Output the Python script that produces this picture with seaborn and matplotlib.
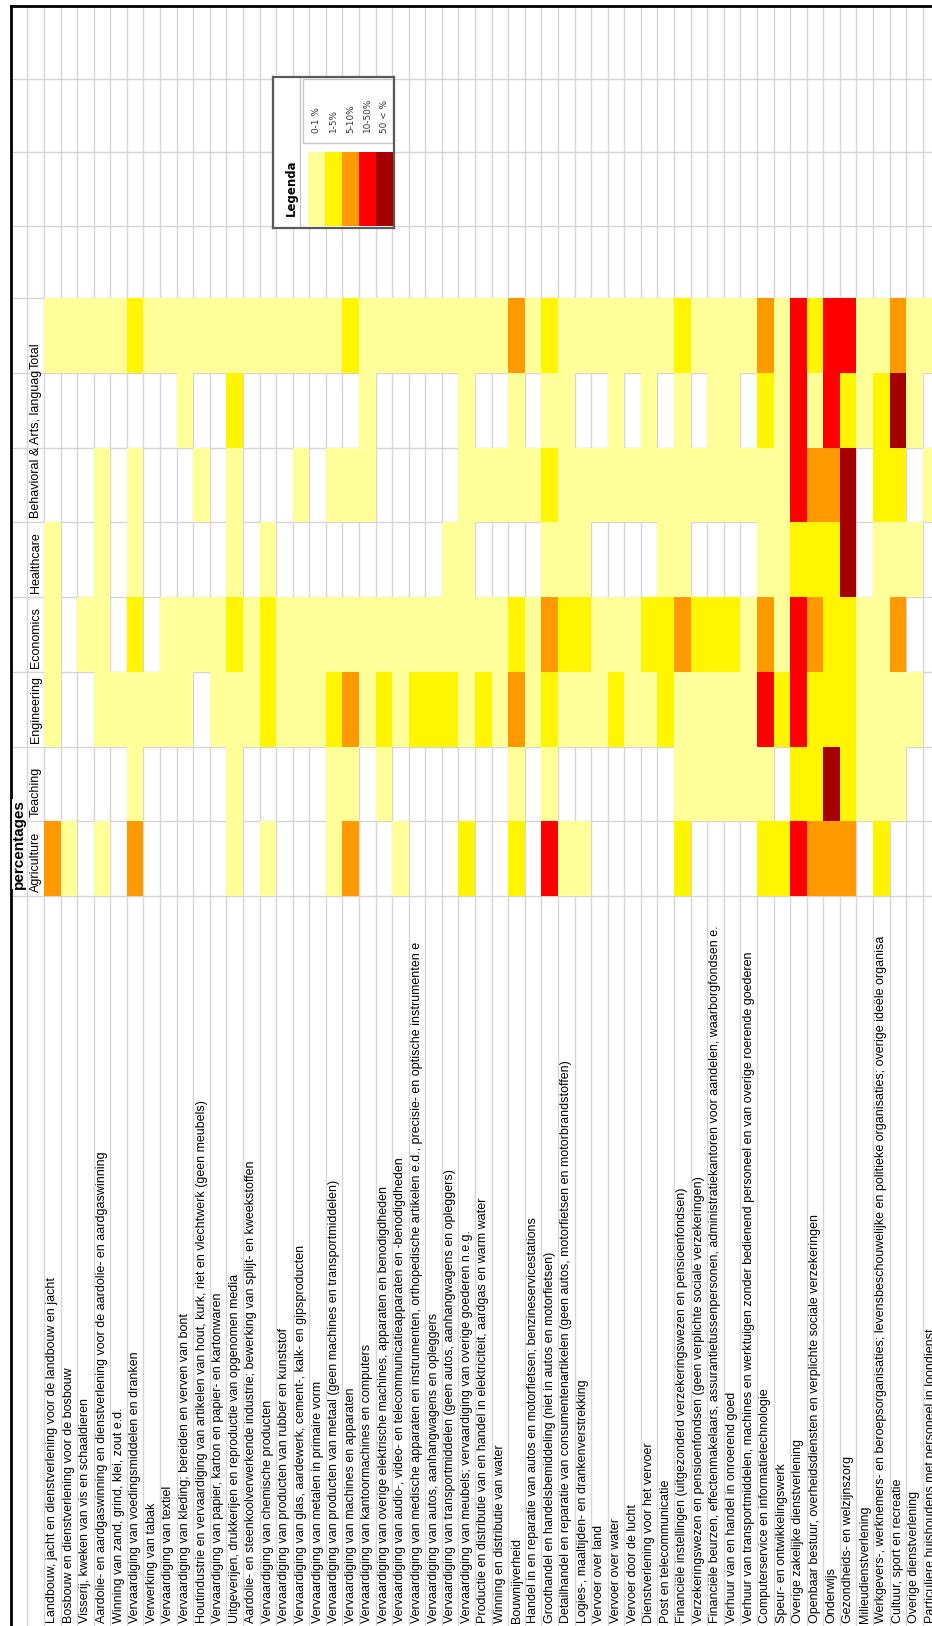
import numpy as np
import pandas as pd
import matplotlib
matplotlib.use("Agg")
import matplotlib.pyplot as plt
import seaborn as sns
from matplotlib.colors import ListedColormap
from matplotlib.patches import Rectangle
from matplotlib.transforms import Bbox, TransformedBbox

plt.rcParams["font.family"] = ["Liberation Sans", "DejaVu Sans"]

# Bedrijfstakken (rijen van de originele tabel, hier kolommen)
industries = [
    "Landbouw, jacht en dienstverlening voor de landbouw en jacht",
    "Bosbouw en dienstverlening voor de bosbouw",
    "Visserij, kweken van vis en schaaldieren",
    "Aardolie- en aardgaswinning en dienstverlening voor de aardolie- en aardgaswinning",
    "Winning van zand, grind, klei, zout e.d.",
    "Vervaardiging van voedingsmiddelen en dranken",
    "Verwerking van tabak",
    "Vervaardiging van textiel",
    "Vervaardiging van kleding; bereiden en verven van bont",
    "Houtindustrie en vervaardiging van artikelen van hout, kurk, riet en vlechtwerk (geen meubels)",
    "Vervaardiging van papier, karton en papier- en kartonwaren",
    "Uitgeverijen, drukkerijen en reproductie van opgenomen media",
    "Aardolie- en steenkoolverwerkende industrie; bewerking van splijt- en kweekstoffen",
    "Vervaardiging van chemische producten",
    "Vervaardiging van producten van rubber en kunststof",
    "Vervaardiging van glas, aardewerk, cement-, kalk- en gipsproducten",
    "Vervaardiging van metalen in primaire vorm",
    "Vervaardiging van producten van metaal (geen machines en transportmiddelen)",
    "Vervaardiging van machines en apparaten",
    "Vervaardiging van kantoormachines en computers",
    "Vervaardiging van overige elektrische machines, apparaten en benodigdheden",
    "Vervaardiging van audio-, video- en telecommunicatieapparaten en -benodigdheden",
    "Vervaardiging van medische apparaten en instrumenten, orthopedische artikelen e.d., precisie- en optische instrumenten e",
    "Vervaardiging van autos, aanhangwagens en opleggers",
    "Vervaardiging van transportmiddelen (geen autos, aanhangwagens en opleggers)",
    "Vervaardiging van meubels; vervaardiging van overige goederen n.e.g.",
    "Productie en distributie van en handel in elektriciteit, aardgas en warm water",
    "Winning en distributie van water",
    "Bouwnijverheid",
    "Handel in en reparatie van autos en motorfietsen; benzineservicestations",
    "Groothandel en handelsbemiddeling (niet in autos en motorfietsen)",
    "Detailhandel en reparatie van consumentenartikelen (geen autos, motorfietsen en motorbrandstoffen)",
    "Logies-, maaltijden- en drankenverstrekking",
    "Vervoer over land",
    "Vervoer over water",
    "Vervoer door de lucht",
    "Dienstverlening voor het vervoer",
    "Post en telecommunicatie",
    "Financiële instellingen (uitgezonderd verzekeringswezen en pensioenfondsen)",
    "Verzekeringswezen en pensioenfondsen (geen verplichte sociale verzekeringen)",
    "Financiële beurzen, effectenmakelaars, assurantietussenpersonen, administratiekantoren voor aandelen, waarborgfondsen e.",
    "Verhuur van en handel in onroerend goed",
    "Verhuur van transportmiddelen, machines en werktuigen zonder bedienend personeel en van overige roerende goederen",
    "Computerservice en informatietechnologie",
    "Speur- en ontwikkelingswerk",
    "Overige zakelijke dienstverlening",
    "Openbaar bestuur, overheidsdiensten en verplichte sociale verzekeringen",
    "Onderwijs",
    "Gezondheids- en welzijnszorg",
    "Milieudienstverlening",
    "Werkgevers-, werknemers- en beroepsorganisaties; levensbeschouwelijke en politieke organisaties; overige ideële organisa",
    "Cultuur, sport en recreatie",
    "Overige dienstverlening",
    "Particuliere huishoudens met personeel in loondienst",
]

# klasse per cel: 0 = leeg, 1 = 0-1 %, 2 = 1-5%, 3 = 5-10%, 4 = 10-50%, 5 = 50 < %
agriculture = [3, 1, 0, 1, 0, 3, 0, 0, 0,
               0, 0, 1, 0, 1, 0, 0, 0, 1,
               3, 0, 0, 1, 0, 0, 0, 2, 0,
               0, 2, 0, 4, 1, 1, 0, 0, 0,
               0, 0, 2, 0, 0, 0, 0, 2, 2,
               4, 3, 3, 3, 0, 2, 0, 0, 0]
teaching = [0, 0, 0, 0, 0, 1, 0, 0, 0,
            0, 0, 1, 0, 0, 0, 0, 0, 1,
            1, 0, 1, 0, 0, 0, 0, 0, 0,
            0, 1, 0, 1, 0, 0, 0, 0, 0,
            0, 0, 1, 1, 1, 1, 1, 1, 0,
            2, 2, 5, 2, 1, 1, 1, 0, 0]
engineering = [1, 0, 0, 1, 1, 1, 1, 1, 1,
               0, 1, 1, 1, 2, 1, 1, 1, 2,
               3, 1, 2, 1, 2, 2, 2, 1, 2,
               1, 3, 1, 2, 1, 1, 1, 2, 1,
               1, 2, 1, 1, 1, 1, 1, 4, 2,
               4, 2, 2, 2, 1, 1, 1, 1, 0]
economics = [1, 0, 1, 1, 0, 2, 0, 1, 1,
             1, 1, 2, 1, 2, 1, 1, 1, 1,
             1, 1, 1, 1, 1, 1, 1, 1, 1,
             1, 2, 1, 3, 2, 2, 1, 1, 1,
             2, 2, 3, 2, 2, 2, 1, 3, 1,
             4, 3, 2, 2, 1, 1, 3, 0, 0]
healthcare = [1, 0, 0, 1, 0, 1, 0, 0, 0,
              0, 0, 1, 0, 1, 0, 0, 0, 0,
              0, 0, 0, 0, 0, 0, 1, 1, 0,
              0, 0, 0, 1, 1, 1, 0, 0, 0,
              0, 1, 1, 0, 0, 0, 0, 1, 1,
              2, 2, 2, 5, 0, 1, 1, 1, 0]
behavioral = [0, 0, 0, 1, 0, 1, 0, 0, 0,
              1, 0, 1, 0, 0, 0, 1, 0, 1,
              1, 1, 0, 0, 0, 0, 0, 1, 1,
              1, 1, 1, 2, 1, 1, 1, 1, 1,
              1, 1, 1, 1, 1, 1, 1, 1, 1,
              4, 3, 3, 5, 0, 2, 2, 0, 1]
arts = [0, 0, 0, 0, 0, 0, 0, 0, 1,
        0, 0, 2, 0, 0, 0, 0, 0, 0,
        0, 1, 0, 0, 0, 0, 0, 1, 0,
        0, 1, 0, 1, 1, 0, 0, 1, 0,
        1, 0, 1, 0, 1, 1, 0, 2, 1,
        4, 1, 4, 2, 1, 2, 5, 1, 0]
total = [1, 1, 1, 1, 1, 2, 1, 1, 1,
         1, 1, 1, 1, 1, 1, 1, 1, 1,
         2, 1, 1, 1, 1, 1, 1, 1, 1,
         1, 3, 1, 2, 1, 1, 1, 1, 1,
         1, 1, 2, 1, 1, 1, 1, 3, 1,
         4, 2, 4, 4, 1, 1, 3, 1, 1]

# van boven naar beneden in de gedraaide tabel
categories = ["Total", "Arts, languag", "Behavioral &", "Healthcare",
              "Economics", "Engineering", "Teaching", "Agriculture"]
legend_labels = ["0-1 %", "1-5%", "5-10%", "10-50%", "50 < %"]
colors = ["#FFFF99", "#FFF500", "#FF9900", "#FF0000", "#A50000"]

df = pd.DataFrame([total, arts, behavioral, healthcare, economics,
                   engineering, teaching, agriculture],
                  index=categories, columns=industries)
cmap = ListedColormap(colors)

# layout in pixels van het origineel
W, H = 932, 1626
COL, ROW = 16.58, 74.75
X0, Y0 = 44, 298
EMPTY_ROWS_PX = [79, 152, 226]   # lege spreadsheetrijen boven de tabel


def fig_rect(x0, y0, x1, y1):
    return [x0 / W, 1 - y1 / H, (x1 - x0) / W, (y1 - y0) / H]


fig = plt.figure(figsize=(W / 100, H / 100), dpi=100)
ax = fig.add_axes(fig_rect(X0 - 2 * COL, 6, X0 + len(industries) * COL, H))

sns.heatmap(df, mask=(df == 0), cmap=cmap, vmin=0.5, vmax=5.5, cbar=False,
            xticklabels=industries, yticklabels=False, ax=ax)

ax.set_xlim(-2, len(industries))
ax.set_ylim((H - Y0) / ROW, -(Y0 - 6) / ROW)

# rasterlijnen zoals in een spreadsheet
ax.set_axisbelow(True)
ax.set_xticks(np.arange(-1, len(industries) + 1), minor=True)
ygrid = [(p - Y0) / ROW for p in EMPTY_ROWS_PX] + list(range(len(categories) + 1))
ax.set_yticks(ygrid, minor=True)
ax.grid(which="minor", color="#d6d6d6", lw=1.0)
ax.tick_params(which="both", length=0)
ax.tick_params(axis="x", which="major", pad=-2.5, labelsize=9)
plt.setp(ax.get_xticklabels(), rotation=90, ha="center", va="bottom")

for side in ["right", "bottom"]:
    ax.spines[side].set_visible(False)
for side in ["left", "top"]:
    ax.spines[side].set_visible(True)
    ax.spines[side].set_color("black")
    ax.spines[side].set_linewidth(2.0)

# kolomkoppen
for k, name in enumerate(categories):
    t = ax.text(-0.5, k + 1 - 4 / ROW, name, rotation=90, ha="center",
                va="bottom", fontsize=9)
    t.set_clip_box(TransformedBbox(Bbox([[-1, k], [0, k + 1]]), ax.transData))
ax.text(-1.5, len(categories) - 7 / ROW, "percentages", rotation=90,
        ha="center", va="bottom", fontsize=11, fontweight="bold",
        bbox=dict(fc="white", ec="none", pad=0.3))

# legenda
lax = fig.add_axes(fig_rect(273, 77, 394, 228))
lax.set_xlim(273, 394)
lax.set_ylim(228, 77)
lax.set_xticks([])
lax.set_yticks([])
lax.set_facecolor("white")
for s in lax.spines.values():
    s.set_color("#5a5a5a")
    s.set_linewidth(1.6)
lax.axvline(300, color="#c8c8c8", lw=1)
lax.add_patch(Rectangle((303, 79), 90, 64, fc="white", ec="#c8c8c8", lw=1))
lax.text(291, 188, "Legenda", rotation=90, ha="center", va="center",
         fontsize=8.5, fontweight="bold", family="DejaVu Sans")

sax = fig.add_axes(fig_rect(308, 152, 393, 226))
sns.heatmap(np.arange(1, len(colors) + 1).reshape(1, -1), cmap=cmap,
            vmin=0.5, vmax=5.5, cbar=False, xticklabels=False,
            yticklabels=False, ax=sax)
for i, lab in enumerate(legend_labels):
    sax.text(i + 0.5, -19 / 74, lab, rotation=90, ha="center", va="bottom",
             fontsize=6.4, family="DejaVu Sans", color="#333333", clip_on=False)

fig.savefig("out.png", dpi=100)
